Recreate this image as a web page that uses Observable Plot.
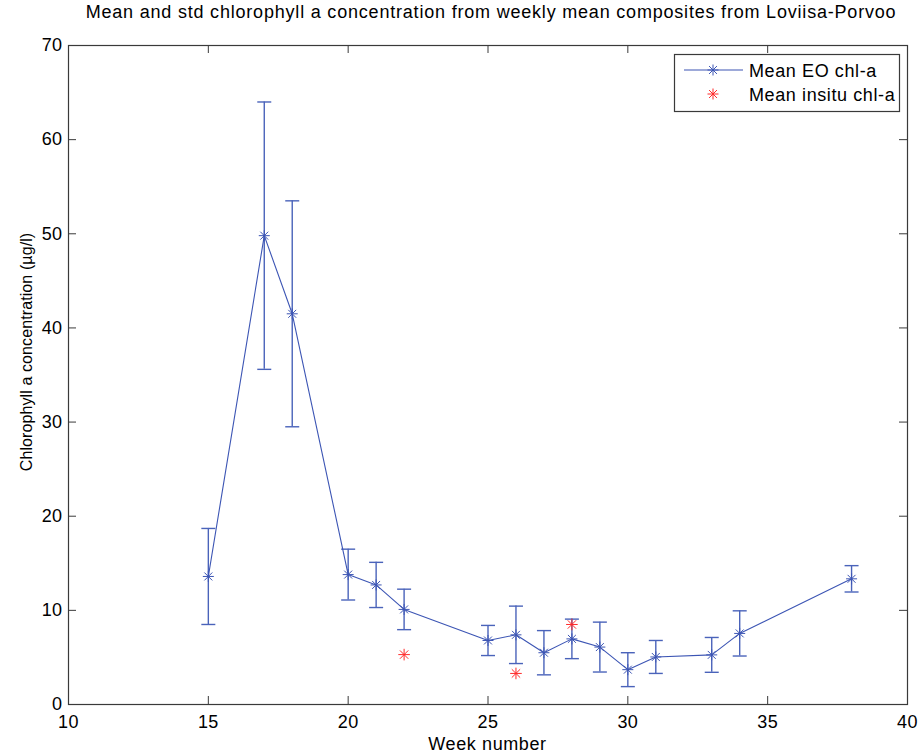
<!DOCTYPE html>
<html>
<head>
<meta charset="utf-8">
<script src="https://cdn.jsdelivr.net/npm/d3@7"></script>
<script src="https://cdn.jsdelivr.net/npm/@observablehq/plot@0.6"></script>
<style>
  html, body { margin: 0; padding: 0; background: #fff; }
  svg { display: block; }
</style>
</head>
<body>
<div id="chart"></div>
<script>
// ---- Data ----
const weeks   = [15, 17, 18, 20, 21, 22, 25, 26, 27, 28, 29, 30, 31, 33, 34, 38];
const eoMean  = [13.6, 49.8, 41.5, 13.8, 12.7, 10.1, 6.8, 7.4, 5.5, 6.97, 6.1, 3.7, 5.05, 5.27, 7.55, 13.35];
const eoStd   = [5.1, 14.2, 12.0, 2.7, 2.4, 2.15, 1.6, 3.05, 2.35, 2.1, 2.65, 1.8, 1.75, 1.85, 2.4, 1.4];
const insituWeeks = [22, 26, 28];
const insituMean  = [5.3, 3.3, 8.5];
const xTicks = [10, 15, 20, 25, 30, 35, 40];
const yTicks = [0, 10, 20, 30, 40, 50, 60, 70];

const titleText  = "Mean and std chlorophyll a concentration from weekly mean composites from Loviisa-Porvoo";
const xLabelText = "Week number";
const yLabelText = "Chlorophyll a concentration (\u00b5g/l)";
const legendLabels = ["Mean EO chl-a", "Mean insitu chl-a"];

const eo = weeks.map((w, i) => ({week: w, mean: eoMean[i], lo: eoMean[i] - eoStd[i], hi: eoMean[i] + eoStd[i]}));
const insitu = insituWeeks.map((w, i) => ({week: w, mean: insituMean[i]}));

// ---- Styling ----
const W = 919, H = 754;
const mL = 68, mR = 12, mT = 45, mB = 50;
const innerW = W - mL - mR, innerH = H - mT - mB;
const blue = "#3c55b4", barBlue = "#4a63ba", red = "#ff2a2a", axisCol = "#3a3a3a";
const font = "'Liberation Sans', Arial, Helvetica, sans-serif";

// MATLAB-like '*' marker (plus + cross)
const starSymbol = {
  draw(ctx, size) {
    const h = Math.sqrt(size / Math.PI);
    const d = h * 0.72;
    ctx.moveTo(-h, 0); ctx.lineTo(h, 0);
    ctx.moveTo(0, -h); ctx.lineTo(0, h);
    ctx.moveTo(-d, -d); ctx.lineTo(d, d);
    ctx.moveTo(-d, d); ctx.lineTo(d, -d);
  }
};
// horizontal cap for error bars
const capSymbol = {
  draw(ctx, size) {
    const h = Math.sqrt(size / Math.PI);
    ctx.moveTo(-h, 0); ctx.lineTo(h, 0);
  }
};

const chart = Plot.plot({
  width: W, height: H,
  marginLeft: mL, marginRight: mR, marginTop: mT, marginBottom: mB,
  style: {fontFamily: font, fontSize: "18px", color: "#000", background: "#fff"},
  x: {domain: [10, 40], ticks: xTicks, label: null},
  y: {domain: [0, 70], ticks: yTicks, label: null},
  marks: [
    Plot.axisX(xTicks, {tickSize: 0, tickPadding: 11, fill: "#000", fontSize: 18, tickFormat: d => String(d)}),
    Plot.axisY(yTicks, {tickSize: 0, tickPadding: 6, fill: "#000", fontSize: 18, tickFormat: d => String(d)}),
    // inward ticks on all four sides
    Plot.tickX(xTicks, {x: d => d, insetTop: innerH - 8, stroke: axisCol}),
    Plot.tickX(xTicks, {x: d => d, insetBottom: innerH - 8, stroke: axisCol}),
    Plot.tickY(yTicks, {y: d => d, insetRight: innerW - 8, stroke: axisCol}),
    Plot.tickY(yTicks, {y: d => d, insetLeft: innerW - 8, stroke: axisCol}),
    Plot.frame({stroke: axisCol, strokeWidth: 1.2}),
    // error bars
    Plot.ruleX(eo, {x: "week", y1: "lo", y2: "hi", stroke: barBlue, strokeWidth: 1.4}),
    Plot.dot(eo, {x: "week", y: "hi", symbol: capSymbol, r: 7, fill: "none", stroke: barBlue, strokeWidth: 1.4}),
    Plot.dot(eo, {x: "week", y: "lo", symbol: capSymbol, r: 7, fill: "none", stroke: barBlue, strokeWidth: 1.4}),
    // mean line + markers
    Plot.line(eo, {x: "week", y: "mean", stroke: blue, strokeWidth: 1.1}),
    Plot.dot(eo, {x: "week", y: "mean", symbol: starSymbol, r: 5.5, fill: "none", stroke: blue, strokeWidth: 1}),
    Plot.dot(insitu, {x: "week", y: "mean", symbol: starSymbol, r: 5.8, fill: "none", stroke: red, strokeWidth: 1})
  ]
});

const svg = d3.select(chart);
svg.selectAll("text").attr("letter-spacing", "0.4");

// Title
svg.append("text")
  .attr("x", 491).attr("y", 18)
  .attr("text-anchor", "middle")
  .attr("font-family", font).attr("font-size", 18)
  .attr("letter-spacing", "0.8")
  .attr("fill", "#000")
  .text(titleText);

// X label
svg.append("text")
  .attr("x", (mL + W - mR) / 2).attr("y", 750)
  .attr("text-anchor", "middle")
  .attr("font-family", font).attr("font-size", 18)
  .attr("letter-spacing", "0.6")
  .attr("fill", "#000")
  .text(xLabelText);

// Y label
svg.append("text")
  .attr("transform", "translate(32,352) rotate(-90)")
  .attr("text-anchor", "middle")
  .attr("font-family", font).attr("font-size", 16)
  .attr("letter-spacing", "0.1")
  .attr("fill", "#000")
  .text(yLabelText);

// Legend
const lg = svg.append("g");
lg.append("rect")
  .attr("x", 674.5).attr("y", 54.5).attr("width", 225).attr("height", 57)
  .attr("fill", "#fff").attr("stroke", axisCol).attr("stroke-width", 1.2);
const rows = [70, 94];
const starPath = d3.symbol(starSymbol, Math.PI * 5.5 * 5.5)();
lg.append("line")
  .attr("x1", 684).attr("x2", 743).attr("y1", rows[0]).attr("y2", rows[0])
  .attr("stroke", blue).attr("stroke-width", 1.1);
lg.append("path").attr("d", starPath)
  .attr("transform", `translate(713,${rows[0]})`)
  .attr("fill", "none").attr("stroke", blue);
lg.append("path").attr("d", starPath)
  .attr("transform", `translate(713,${rows[1]})`)
  .attr("fill", "none").attr("stroke", red);
legendLabels.forEach((t, i) => {
  lg.append("text")
    .attr("x", 749).attr("y", rows[i] + 6.5)
    .attr("text-anchor", "start")
    .attr("font-family", font).attr("font-size", 18)
    .attr("letter-spacing", "0.6")
    .attr("fill", "#000")
    .text(t);
});

document.getElementById("chart").appendChild(chart);
</script>
</body>
</html>
